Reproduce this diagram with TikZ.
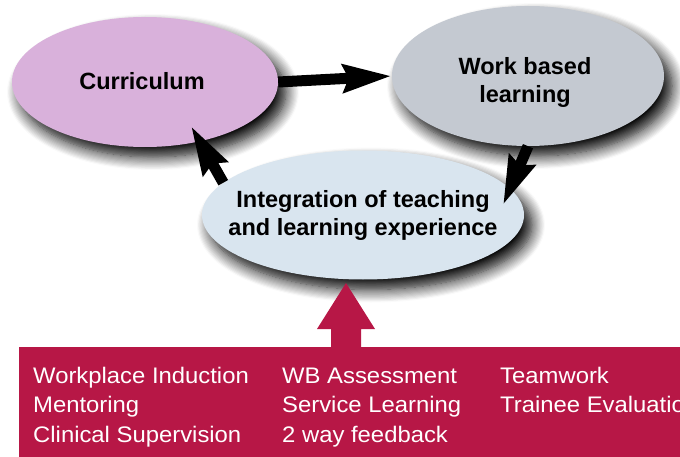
\documentclass[tikz,border=0pt]{standalone}
\usepackage{fontspec}
\setmainfont{Liberation Sans}
\newfontfamily\listfont[FakeStretch=1.06]{Liberation Sans}
\usetikzlibrary{arrows.meta,shapes.geometric,shadows.blur}

\definecolor{curfill}{HTML}{D9B1DB}
\definecolor{wblfill}{HTML}{C4C9D1}
\definecolor{intfill}{HTML}{D9E5EF}
\definecolor{boxred}{HTML}{B71746}

\begin{document}
\begin{tikzpicture}[x=1pt,y=-1pt,
  bubble/.style={ellipse, inner sep=0pt, draw=none,
    blur shadow={shadow xshift=8pt, shadow yshift=-10pt,
                 shadow blur radius=13pt, shadow blur steps=12,
                 shadow opacity=100}},
  boldtext/.style={inner sep=0pt, align=center,
    font=\bfseries\fontsize{23.5}{28}\selectfont},
  flow/.style={line width=11pt,
    -{Stealth[length=48pt,width=27pt,inset=5pt]}},
  item/.style={anchor=base west, inner sep=0pt, text=white,
    font=\listfont\fontsize{22.5}{27}\selectfont}
]
\useasboundingbox (0,0) rectangle (680,457);
\clip (0,0) rectangle (680,457);

% the three stages of the cycle
\node[bubble, fill=curfill, minimum width=266pt, minimum height=130pt]
  (cur) at (145,82) {};
\node[boldtext] (curtext) at (142,81) {Curriculum};
\node[bubble, fill=wblfill, minimum width=272pt, minimum height=140pt]
  (wbl) at (528,76) {};
\node[boldtext] (wbltext) at (525,82) {Work based\\learning};
\node[bubble, fill=intfill, minimum width=322pt, minimum height=129pt]
  (int) at (363,215) {};
\node[boldtext] (inttext) at (363,215)
  {Integration of teaching\\and learning experience};

% arrow tips reach into the target ellipses
\coordinate (curtip) at (191,126);
\coordinate (inttip) at (503,205);

\draw[flow] (cur.east) -- (wbl.west);
\draw[flow] (wbl.south) -- (inttip);
\draw[flow] (int.167) -- (curtip);

% activities panel and the arrow feeding into the integration stage
\fill[boxred] (19,347) rectangle (700,470);
\coordinate (feedtip) at (346,283);
\fill[boxred] (331,352) -- (331,329) -- (317,329) -- (feedtip)
  -- (375,329) -- (361,329) -- (361,352) -- cycle;

\node[item] (a1) at (33,383)   {Workplace Induction};
\node[item] (a2) at (33,412.5) {Mentoring};
\node[item] (a3) at (33,442)   {Clinical Supervision};
\node[item] (b1) at (282,383)   {WB Assessment};
\node[item] (b2) at (282,412.5) {Service Learning};
\node[item] (b3) at (282,442)   {2 way feedback};
\node[item] (c1) at (500,383)   {Teamwork};
\node[item] (c2) at (500,412.5) {Trainee Evaluation};
\end{tikzpicture}
\end{document}
